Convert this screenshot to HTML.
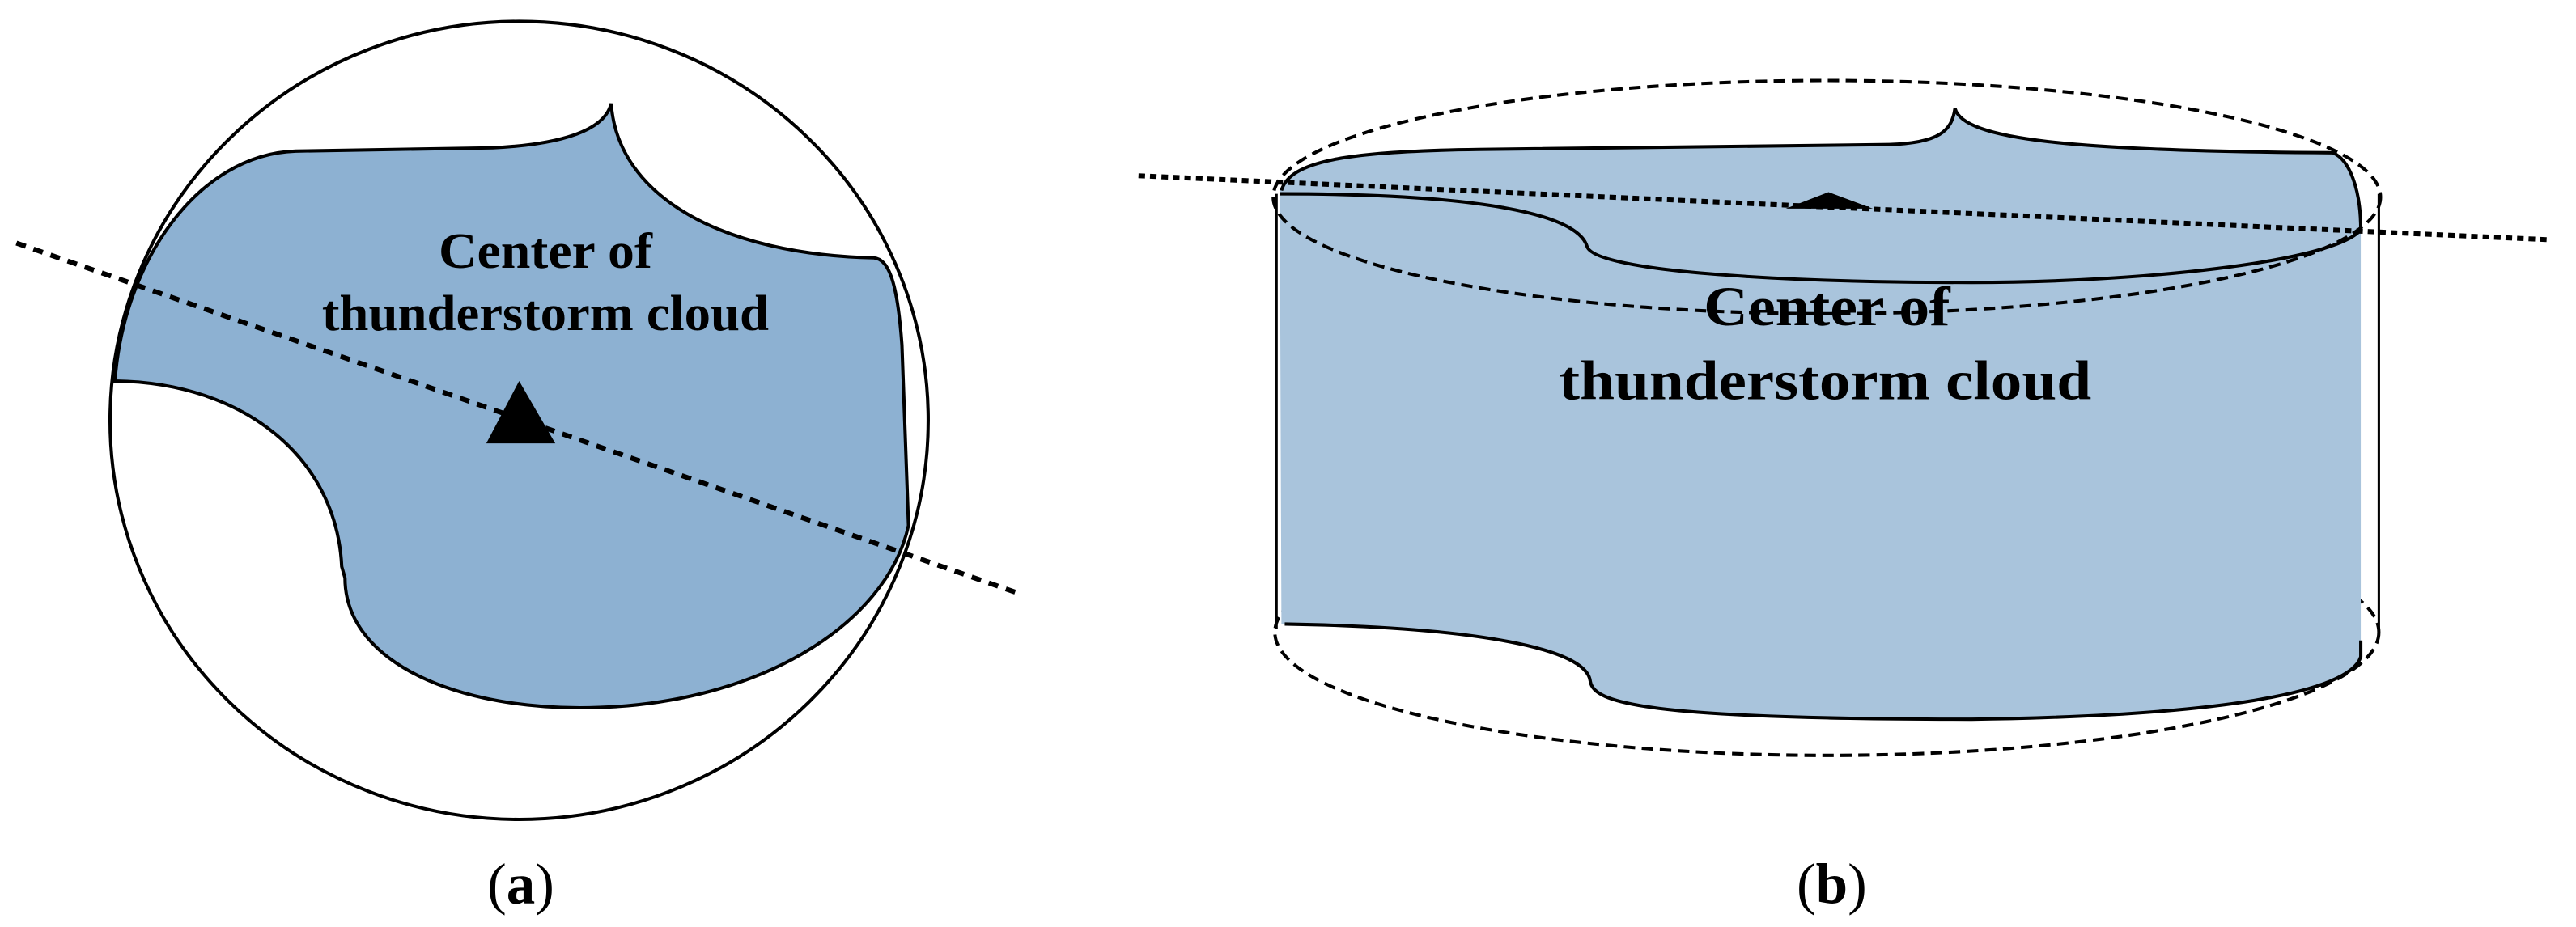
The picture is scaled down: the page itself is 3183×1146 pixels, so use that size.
<!DOCTYPE html>
<html><head><meta charset="utf-8"><style>html,body{margin:0;padding:0;background:#fff}svg{display:block}</style></head>
<body>
<svg width="3183" height="1146" viewBox="0 0 1568 564.5" xmlns="http://www.w3.org/2000/svg" font-family="'Liberation Serif', serif" font-weight="bold">
<rect width="1568" height="564.5" fill="#fff"/>
<!-- Panel a -->
<ellipse cx="316" cy="256" rx="249" ry="243" fill="none" stroke="#000" stroke-width="2"/>
<path d="M70,232 C75,160 120,94 180,92 L300,90 C340,88 368,80 372,63 C376,120 440,155 532,157 C540,158 546,168 549,210 L553,320 C540,380 460,432 350,431 C270,430 210,400 210,352 L208,345 C205,280 150,233 70,232 Z" fill="#8db1d2" stroke="#000" stroke-width="2"/>
<line x1="10" y1="148" x2="622" y2="362" stroke="#000" stroke-width="3" stroke-dasharray="6,5"/>
<polygon points="316,232 296,270 338,270" fill="#000"/>
<text x="332" y="163" font-size="31" text-anchor="middle" textLength="130" lengthAdjust="spacingAndGlyphs">Center of</text>
<text x="332" y="201" font-size="31" text-anchor="middle" textLength="272" lengthAdjust="spacingAndGlyphs">thunderstorm cloud</text>
<text x="317" y="550" font-size="35" text-anchor="middle" font-weight="normal">(<tspan font-weight="bold">a</tspan>)</text>
<!-- Panel b -->
<ellipse cx="1112" cy="385" rx="336" ry="75" fill="none" stroke="#000" stroke-width="2" stroke-dasharray="7,4"/>
<path d="M777,118 L777,383 M1448,118 L1448,383" fill="none" stroke="#000" stroke-width="1.5"/>
<path d="M779,116 C785,98 820,92 900,91 L1150,88 C1180,87 1188,80 1190,66 C1195,85 1260,92 1420,93 C1430,97 1437,115 1437,140 L1437,400 C1430,422 1350,436 1200,438 C1000,438 970,428 968,415 C966,395 900,382 780,380 Z" fill="#a9c4dc"/>
<ellipse cx="1112" cy="120" rx="337" ry="71" fill="none" stroke="#000" stroke-width="2" stroke-dasharray="7,4"/>
<path d="M780,116 C785,98 820,92 900,91 L1150,88 C1180,87 1188,80 1190,66 C1195,85 1260,92 1420,93 C1430,97 1437,115 1437,140" fill="none" stroke="#000" stroke-width="2"/>
<path d="M779,118 C900,118 960,130 966,150 C970,165 1080,172 1200,172 C1300,172 1420,160 1437,140" fill="none" stroke="#000" stroke-width="2"/>
<path d="M782,380 C900,382 966,395 968,415 C970,428 1000,438 1200,438 C1350,436 1430,422 1437,400 L1437,390" fill="none" stroke="#000" stroke-width="2"/>
<line x1="693" y1="107" x2="1552" y2="146" stroke="#000" stroke-width="3" stroke-dasharray="4,3"/>
<polygon points="1113,117 1087,127 1140,127" fill="#000"/>
<text x="1112" y="198" font-size="34" text-anchor="middle" textLength="150" lengthAdjust="spacingAndGlyphs">Center of</text>
<text x="1111" y="243" font-size="34" text-anchor="middle" textLength="324" lengthAdjust="spacingAndGlyphs">thunderstorm cloud</text>
<text x="1115" y="550" font-size="35" text-anchor="middle" font-weight="normal">(<tspan font-weight="bold">b</tspan>)</text>
</svg>
</body></html>
